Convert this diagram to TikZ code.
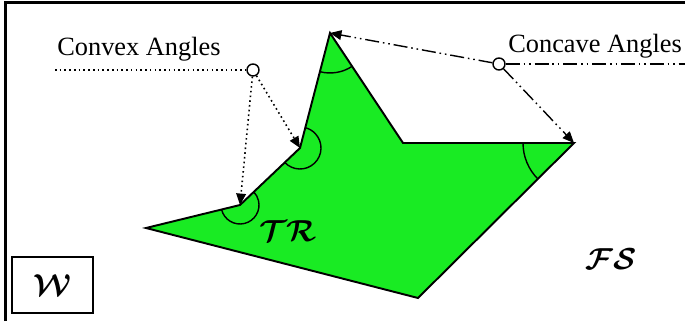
\documentclass[tikz,border=0pt]{standalone}
\usepackage{amsmath,amssymb}
\usepackage{fontspec}
\setmainfont{Liberation Serif}
\usepackage{tikz}
\usetikzlibrary{angles,arrows.meta}
\definecolor{regiongreen}{RGB}{25,235,35}

\begin{document}
\begin{tikzpicture}[
    x=0.02cm,y=0.02cm,
    every node/.style={inner sep=0pt},
    edge/.style={line width=1.1pt,line join=miter},
    hub/.style={circle,draw,fill=white,line width=0.8pt,minimum size=0.24cm},
    cvxline/.style={line width=0.9pt,dash pattern=on 0.9pt off 1.8pt},
    ccvline/.style={line width=0.8pt,dash pattern=on 8pt off 2.2pt on 0.9pt off 2.2pt on 0.9pt off 2.2pt},
    tip/.style={-{Triangle[length=6.5pt,width=5.5pt]}},
    mark/.style={draw,line width=0.8pt,angle radius=#1},
    caption/.style={font=\fontsize{15}{18}\selectfont,anchor=base west},
    script/.style={font=\fontsize{16}{18}\selectfont\boldmath}
]
    \useasboundingbox (0,0) rectangle (685,321);
    \draw[line width=1.4pt] (5.5,0) -- (5.5,318.5) -- (685,318.5);

    \coordinate (Tip) at (146,93);
    \coordinate (V1) at (240,116);
    \coordinate (V2) at (300,173);
    \coordinate (Top) at (330,288);
    \coordinate (C) at (403,178);
    \coordinate (R) at (574,178);
    \coordinate (Bot) at (418,23);

    \draw[edge,fill=regiongreen]
        (Tip)--(V1)--(V2)--(Top)--(C)--(R)--(Bot)--cycle;

    % angle marks
    \path
        pic[mark=0.38cm] {angle=Tip--V1--V2}
        pic[mark=0.42cm] {angle=V1--V2--Top}
        pic[mark=0.8cm] {angle=V2--Top--C}
        pic[mark=1.02cm] {angle=C--R--Bot};

    \node[caption] (cvxtext) at (57,265) {Convex Angles};
    \node[caption] (ccvtext) at (508,268) {Concave Angles};

    \coordinate (cvxstart) at (55,251);
    \coordinate (ccvend) at (685,257);
    \node[hub] (cvx) at (253,251) {};
    \node[hub] (ccv) at (499,257) {};

    \draw[cvxline] (cvxstart) -- (cvx);
    \draw[cvxline,tip] (cvx) -- (V1);
    \draw[cvxline,tip] (cvx) -- (V2);

    \draw[ccvline] (ccv) -- (ccvend);
    \draw[ccvline,tip] (ccv) -- (Top);
    \draw[ccvline,tip] (ccv) -- (R);

    \node[script] (tr) at (288,90) {$\mathcal{TR}$};
    \node[script] (fs) at (611,62) {$\mathcal{FS}$};
    \node[draw,line width=0.8pt,minimum width=1.62cm,minimum height=1.12cm,
        script] (w) at (52.5,36) {$\mathcal{W}$};
\end{tikzpicture}
\end{document}
